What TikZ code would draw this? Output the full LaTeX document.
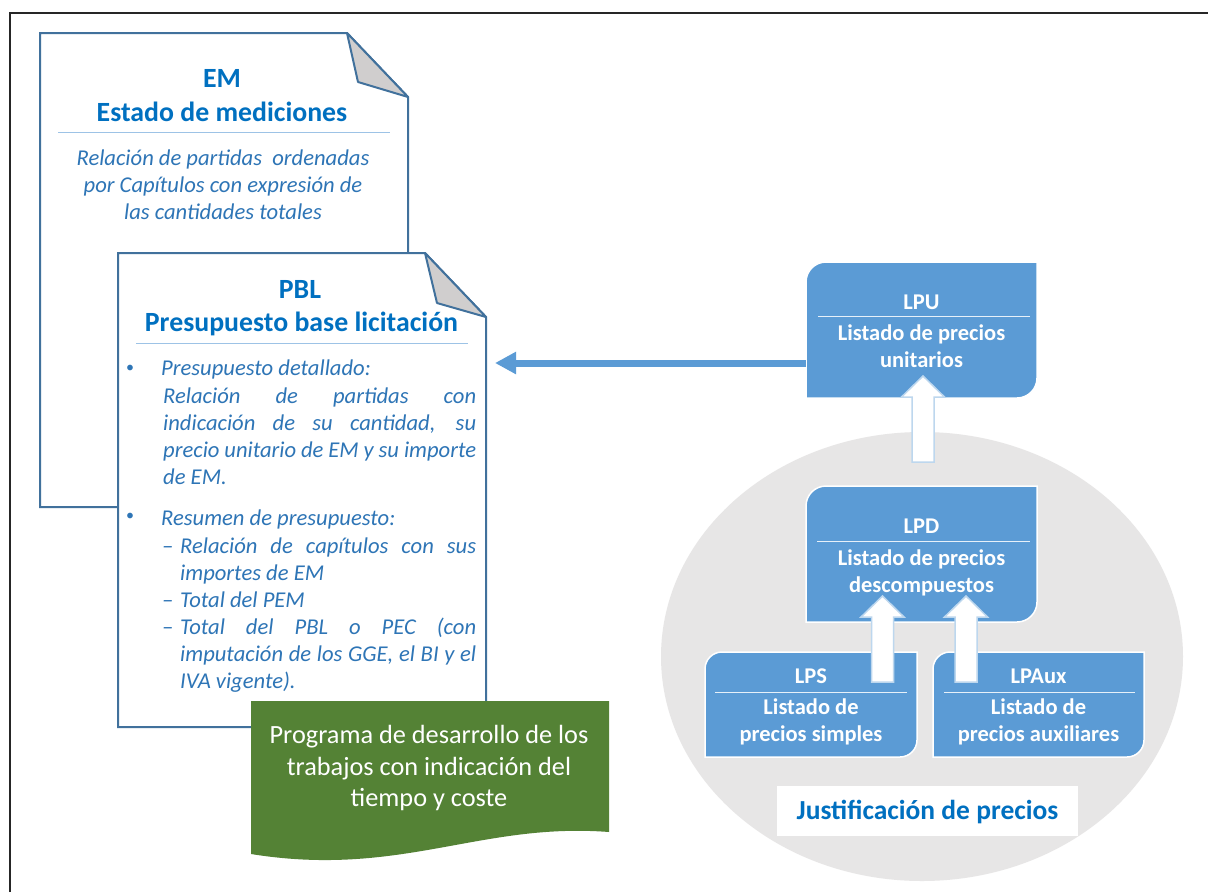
\documentclass[tikz,border=0pt]{standalone}
\usepackage{fontspec}
\setmainfont{Carlito}
\usetikzlibrary{calc,arrows.meta,shapes.geometric}
\definecolor{docborder}{HTML}{41719C}
\definecolor{titleblue}{HTML}{0070C0}
\definecolor{txtblue}{HTML}{2E75B6}
\definecolor{rulecol}{HTML}{9DC3E6}
\definecolor{boxblue}{HTML}{5B9BD5}
\definecolor{foldgray}{HTML}{D0CECE}
\definecolor{ellgray}{HTML}{E7E6E6}
\definecolor{progreen}{HTML}{548235}
\definecolor{hollowedge}{HTML}{BDD7EE}
\newcommand\hollowarrow[2]{%
  \filldraw[hollow] let \p1=(#1), \p2=(#2) in
    (\x1-11pt,\y1) -- (\x1-11pt,\y2-21pt) -- (\x1-21.5pt,\y2-21pt) -- (\x1,\y2)
    -- (\x1+21.5pt,\y2-21pt) -- (\x1+11pt,\y2-21pt) -- (\x1+11pt,\y1) -- cycle;}
\begin{document}
\begin{tikzpicture}[x=1pt,y=1pt,
  area/.style={inner sep=0pt, outer sep=0pt, draw=none},
  doc/.style={fill=white, draw=docborder, line width=2pt, line join=miter},
  fold/.style={fill=foldgray, draw=docborder, line width=2pt, line join=round},
  ttl/.style={inner sep=0pt, anchor=base, text=titleblue, font=\fontsize{27.8}{32}\selectfont\bfseries},
  itx/.style={inner sep=0pt, text=txtblue, font=\fontsize{22.6}{27}\selectfont\itshape},
  sepline/.style={draw=rulecol, line width=1pt},
  bluebox/.style={fill=boxblue, draw=white, line width=1.5pt},
  wtx/.style={inner sep=0pt, anchor=base, text=white, font=\fontsize{22.5}{27}\selectfont\bfseries},
  gtx/.style={inner sep=0pt, anchor=base, text=white, font=\fontsize{26.3}{32}\selectfont},
  wline/.style={draw=white!85!boxblue, line width=1pt},
  hollow/.style={fill=white, draw=hollowedge, line width=1.5pt},
  bigarrow/.style={draw=boxblue, line width=7pt, -{Triangle[width=21pt,length=21pt]}}]
\useasboundingbox (0,0) rectangle (1208,-892);
\fill[white] (0,0) rectangle (1208,-892);
% frame
\draw[black!85, line width=2pt] (10,-892) -- (10,-13) -- (1208,-13);

% ---------- EM document ----------
\node[area, minimum width=368pt, minimum height=474pt] (em) at (224,-270) {};
\filldraw[doc] (em.south west) -- (em.north west) -- ($(em.north east)+(-61,0)$)
  -- ($(em.north east)+(0,-64)$) -- (em.south east) -- cycle;
\filldraw[fold] ($(em.north east)+(-61,0)$) -- ($(em.north east)+(-50,-49)$) -- ($(em.north east)+(0,-64)$) -- cycle;
\node[ttl] (emt1) at (222,-87) {EM};
\node[ttl] (emt2) at (222,-121) {Estado de mediciones};
\draw[sepline] (58,-132) -- (390,-132);
\node[itx, anchor=base] (emd1) at (223,-165) {Relación de partidas\ \ ordenadas};
\node[itx, anchor=base] (emd2) at (223,-192) {por Capítulos con expresión de};
\node[itx, anchor=base] (emd3) at (223,-219) {las cantidades totales};

% ---------- PBL document ----------
\node[area, minimum width=368pt, minimum height=474pt] (pbl) at (302,-490) {};
\filldraw[doc] (pbl.south west) -- (pbl.north west) -- ($(pbl.north east)+(-61,0)$)
  -- ($(pbl.north east)+(0,-64)$) -- (pbl.south east) -- cycle;
\filldraw[fold] ($(pbl.north east)+(-61,0)$) -- ($(pbl.north east)+(-49,-50)$) -- ($(pbl.north east)+(0,-64)$) -- cycle;
\node[ttl] (pbt1) at (300,-298) {PBL};
\node[ttl] (pbt2) at (301.5,-331) {Presupuesto base licitación};
\draw[sepline] (136,-343) -- (468,-343);
\node[itx, anchor=center, font=\fontsize{16}{20}\selectfont] (b1) at (130,-369) {\textbullet};
\node[itx, anchor=base west] (p1) at (161,-375) {Presupuesto detallado:};
\node[itx, anchor=base west] (p2) at (163,-403) {\makebox[313pt][s]{Relación de partidas con}};
\node[itx, anchor=base west] (p3) at (163,-430) {\makebox[313pt][s]{indicación de su cantidad, su}};
\node[itx, anchor=base west] (p4) at (163,-457) {\makebox[313pt][s]{precio unitario de EM y su importe}};
\node[itx, anchor=base west] (p5) at (163,-484) {de EM.};
\node[itx, anchor=center, font=\fontsize{16}{20}\selectfont] (b2) at (130,-517) {\textbullet};
\node[itx, anchor=base west] (r1) at (161,-525) {Resumen de presupuesto:};
\node[itx, anchor=base west] (d1) at (162,-553) {--};
\node[itx, anchor=base west] (r2) at (180,-553) {\makebox[296pt][s]{Relación de capítulos con sus}};
\node[itx, anchor=base west] (r3) at (180,-580) {importes de EM};
\node[itx, anchor=base west] (d2) at (162,-607) {--};
\node[itx, anchor=base west] (r4) at (180,-607) {Total del PEM};
\node[itx, anchor=base west] (d3) at (162,-634) {--};
\node[itx, anchor=base west] (r5) at (180,-634) {\makebox[296pt][s]{Total del PBL o PEC (con}};
\node[itx, anchor=base west] (r6) at (180,-661) {\makebox[296pt][s]{imputación de los GGE, el BI y el}};
\node[itx, anchor=base west] (r7) at (180,-688) {IVA vigente).};

% ---------- green programme ----------
\node[area, minimum width=358pt, minimum height=153pt] (prog) at (430,-777.5) {};
\fill[progreen] (prog.south west) -- (prog.north west) -- (prog.north east) -- ($(prog.north east)+(0,-131)$)
  .. controls (480,-822) and (400,-878) .. (prog.south west) -- cycle;
\node[gtx] (pg1) at (429,-743) {Programa de desarrollo de los};
\node[gtx] (pg2) at (429,-775) {trabajos con indicación del};
\node[gtx] (pg3) at (429,-806) {tiempo y coste};

% ---------- justification ellipse ----------
\node[ellipse, fill=ellgray, draw=none, inner sep=0pt, minimum width=522pt, minimum height=449pt] (circ) at (922,-656.5) {};

% ---------- LPU ----------
\node[area, minimum width=231pt, minimum height=136pt] (lpu) at (921.5,-330) {};
\filldraw[bluebox] (lpu.south west) -- ($(lpu.north west)+(0,-20)$) arc[start angle=180, end angle=90, radius=20pt]
  -- (lpu.north east) -- ($(lpu.south east)+(0,20)$) arc[start angle=0, end angle=-90, radius=20pt] -- cycle;
\node[wtx] (lput) at (921.5,-309) {LPU};
\draw[wline] (818,-316) -- (1030,-316);
\node[wtx] (lpu1) at (921.5,-340) {Listado de precios};
\node[wtx] (lpu2) at (921.5,-367) {unitarios};

% arrow LPU -> PBL
\draw[bigarrow] ($(lpu.west)+(0,-33)$) -- ($(pbl.east |- 0,-363)+(9,0)$);

% hollow arrow justification -> LPU
\coordinate (h1s) at ($(lpu.south)+(1.5,-64)$);
\coordinate (h1t) at ($(lpu.south)+(1.5,22)$);
\hollowarrow{h1s}{h1t}

% ---------- LPD ----------
\node[area, minimum width=231pt, minimum height=136pt] (lpd) at (921.5,-554) {};
\filldraw[bluebox] (lpd.south west) -- ($(lpd.north west)+(0,-20)$) arc[start angle=180, end angle=90, radius=20pt]
  -- (lpd.north east) -- ($(lpd.south east)+(0,20)$) arc[start angle=0, end angle=-90, radius=20pt] -- cycle;
\node[wtx] (lpdt) at (921.5,-533) {LPD};
\draw[wline] (817,-541) -- (1030,-541);
\node[wtx] (lpd1) at (921.5,-565) {Listado de precios};
\node[wtx] (lpd2) at (921.5,-592) {descompuestos};

% ---------- LPS ----------
\node[area, minimum width=212pt, minimum height=105pt] (lps) at (811,-704.5) {};
\filldraw[bluebox] (lps.south west) -- ($(lps.north west)+(0,-17)$) arc[start angle=180, end angle=90, radius=17pt]
  -- (lps.north east) -- ($(lps.south east)+(0,17)$) arc[start angle=0, end angle=-90, radius=17pt] -- cycle;
\node[wtx] (lpst) at (811,-683) {LPS};
\draw[wline] (715,-692) -- (907,-692);
\node[wtx] (lps1) at (811,-714) {Listado de};
\node[wtx] (lps2) at (811,-741) {precios simples};

% ---------- LPAux ----------
\node[area, minimum width=211pt, minimum height=105pt] (lpa) at (1038.5,-704.5) {};
\filldraw[bluebox] (lpa.south west) -- ($(lpa.north west)+(0,-17)$) arc[start angle=180, end angle=90, radius=17pt]
  -- (lpa.north east) -- ($(lpa.south east)+(0,17)$) arc[start angle=0, end angle=-90, radius=17pt] -- cycle;
\node[wtx] (lpat) at (1038.5,-683) {LPAux};
\draw[wline] (944,-692) -- (1135,-692);
\node[wtx] (lpa1) at (1038.5,-714) {Listado de};
\node[wtx] (lpa2) at (1038.5,-741) {precios auxiliares};

% hollow arrows LPS -> LPD, LPAux -> LPD
\coordinate (h2t) at ($(lpd.south)+(-39,26)$);
\coordinate (h2s) at ($(h2t |- lps.north)+(0,-30)$);
\hollowarrow{h2s}{h2t}
\coordinate (h3t) at ($(lpd.south)+(44.5,26)$);
\coordinate (h3s) at ($(h3t |- lpa.north)+(0,-30)$);
\hollowarrow{h3s}{h3t}

% ---------- label ----------
\node[fill=white, inner sep=0pt, minimum width=301pt, minimum height=50pt] (just) at (927.5,-811) {};
\node[inner sep=0pt, anchor=base, text=titleblue, font=\fontsize{27.5}{30}\selectfont\bfseries] (justt) at (927.5,-819) {Justificación de precios};
\end{tikzpicture}
\end{document}
